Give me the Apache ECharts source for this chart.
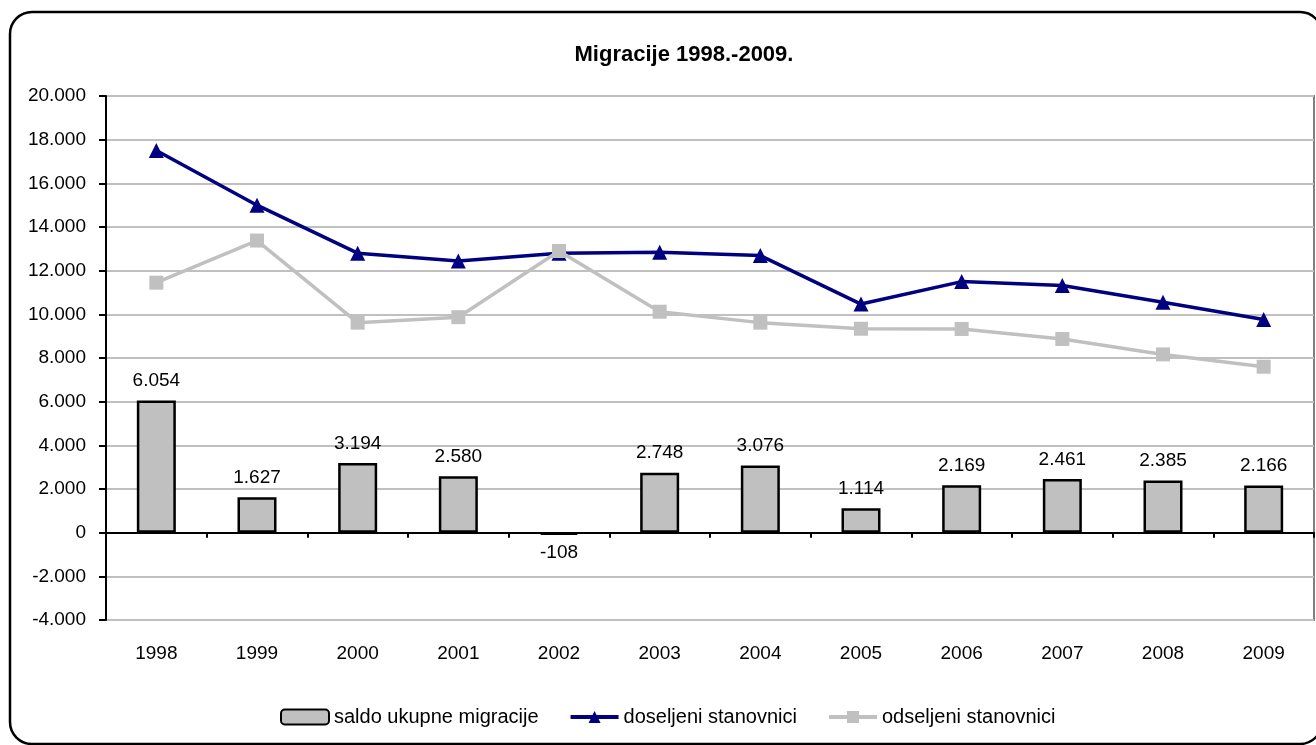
<!DOCTYPE html>
<html>
<head>
<meta charset="utf-8">
<script src="https://cdn.jsdelivr.net/npm/echarts@6/dist/echarts.min.js"></script>
<style>html,body{margin:0;padding:0;background:#fff}#c{width:1316px;height:745px}</style>
</head>
<body>
<div id="c"></div>
<script>
const years = ['1998','1999','2000','2001','2002','2003','2004','2005','2006','2007','2008','2009'];
const saldo = [6054, 1627, 3194, 2580, -108, 2748, 3076, 1114, 2169, 2461, 2385, 2166];
const doseljeni = [17500, 15000, 12800, 12440, 12800, 12840, 12690, 10470, 11500, 11320, 10550, 9760];
const odseljeni = [11450, 13380, 9620, 9870, 12900, 10120, 9620, 9340, 9330, 8870, 8165, 7600];
const yTicks = {min: -4000, max: 20000, step: 2000};
const names = ['saldo ukupne migracije', 'doseljeni stanovnici', 'odseljeni stanovnici'];
const titleText = 'Migracije 1998.-2009.';

function fmt(v) {
  const neg = v < 0;
  let s = String(Math.abs(Math.round(v)));
  s = s.replace(/\B(?=(\d{3})+(?!\d))/g, '.');
  return (neg ? '-' : '') + s;
}

const font = 'Liberation Sans, Arial, sans-serif';
const chart = echarts.init(document.getElementById('c'), null, {renderer: 'canvas'});
chart.setOption({
  animation: false,
  backgroundColor: '#fff',
  textStyle: {fontFamily: font},
  title: {
    text: titleText, left: 679, top: 39, textAlign: 'center',
    textStyle: {fontSize: 22, fontWeight: 'bold', color: '#000', fontFamily: font}
  },
  graphic: [{
    type: 'rect', silent: true, z: -1,
    shape: {x: 10, y: 12, width: 1312, height: 732, r: 22},
    style: {fill: 'none', stroke: '#000', lineWidth: 2.5}
  }],
  legend: {
    left: 275, top: 702,
    itemWidth: 48, itemHeight: 15, itemGap: 30,
    textStyle: {fontSize: 20, color: '#000', fontFamily: font},
    data: [
      {name: names[0]},
      {name: names[1], lineStyle: {width: 4}},
      {name: names[2], lineStyle: {width: 4}}
    ]
  },
  grid: {
    left: 106, right: 2, top: 96, bottom: 125,
    show: true, borderColor: '#808080', borderWidth: 2, backgroundColor: 'transparent'
  },
  xAxis: [{
    type: 'category', data: years, position: 'bottom',
    axisLine: {onZero: true, lineStyle: {color: '#000', width: 2}},
    axisTick: {show: true, length: 5, lineStyle: {color: '#000', width: 2}},
    axisLabel: {show: false},
    splitLine: {show: false}
  }, {
    type: 'category', data: years, position: 'bottom',
    axisLine: {show: false, onZero: false},
    axisTick: {show: false},
    axisLabel: {margin: 24, fontSize: 19, color: '#000', fontFamily: font},
    splitLine: {show: false}
  }],
  yAxis: {
    type: 'value', min: yTicks.min, max: yTicks.max, interval: yTicks.step,
    axisLine: {show: true, lineStyle: {color: '#000', width: 2}},
    axisTick: {show: true, length: 7, lineStyle: {color: '#000', width: 2}},
    axisLabel: {margin: 20, fontSize: 19, color: '#000', fontFamily: font, formatter: fmt},
    splitLine: {lineStyle: {color: '#c0c0c0', width: 2}}
  },
  series: [{
    name: names[0], type: 'bar', xAxisIndex: 0, barWidth: 39,
    itemStyle: {color: '#c0c0c0', borderColor: '#000', borderWidth: 2.5},
    label: {show: true, position: 'top', distance: 10, fontSize: 19, color: '#000', fontFamily: font,
      formatter: p => fmt(p.value)},
    data: saldo.map(v => v < 0 ? {value: v, label: {position: 'bottom', distance: 8}} : v),
    z: 2
  }, {
    name: names[1], type: 'line', xAxisIndex: 0,
    data: doseljeni,
    symbol: 'triangle', symbolSize: 15,
    lineStyle: {color: '#000080', width: 3.5},
    itemStyle: {color: '#000080'},
    z: 3
  }, {
    name: names[2], type: 'line', xAxisIndex: 0,
    data: odseljeni,
    symbol: 'rect', symbolSize: 14,
    lineStyle: {color: '#c0c0c0', width: 3.5},
    itemStyle: {color: '#c0c0c0'},
    z: 4
  }]
});
</script>
</body>
</html>
